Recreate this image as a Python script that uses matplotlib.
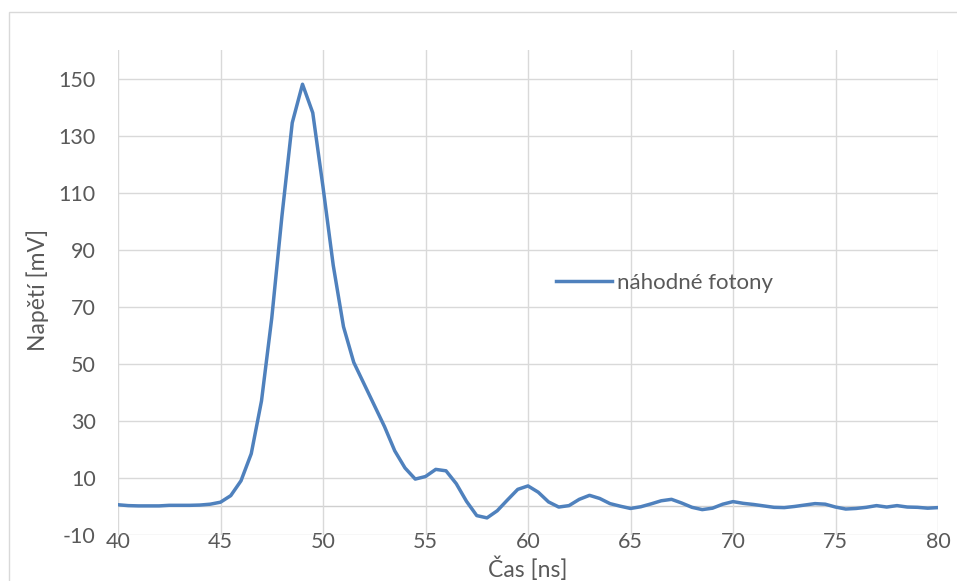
import matplotlib
matplotlib.use("Agg")
import matplotlib.pyplot as plt
from matplotlib.patches import Rectangle

# ---- data ----
time_ns = [40 + 0.5 * i for i in range(81)]
voltage_mV = [
    0.6, 0.3, 0.2, 0.2, 0.2, 0.4, 0.4, 0.4, 0.5, 0.8,
    1.5, 3.8, 9.0, 18.5, 37, 66, 102, 134.5, 148, 138,
    112, 84.5, 63, 50.5, 43, 35.5, 28, 19.5, 13.5, 9.6,
    10.5, 13, 12.5, 8, 1.8, -3.2, -4, -1.5, 2.3, 6,
    7.2, 5, 1.6, -0.2, 0.3, 2.5, 3.9, 2.8, 1.0, 0.1,
    -0.7, -0.1, 0.9, 2.0, 2.5, 1.2, -0.3, -1.1, -0.6, 0.8,
    1.7, 1.1, 0.7, 0.2, -0.3, -0.4, 0.0, 0.5, 1.0, 0.8,
    -0.2, -0.9, -0.7, -0.3, 0.3, -0.2, 0.3, -0.2, -0.3, -0.6,
    -0.4,
]
series_label = "náhodné fotony"
x_ticks = [40, 45, 50, 55, 60, 65, 70, 75, 80]
y_ticks = [-10, 10, 30, 50, 70, 90, 110, 130, 150]
x_label = "Čas [ns]"
y_label = "Napětí [mV]"

plt.rcParams['font.family'] = ['Lato', 'DejaVu Sans']
plt.rcParams['axes.unicode_minus'] = False

W, H = 957, 581
fig = plt.figure(figsize=(W / 100, H / 100), dpi=100)

# chart outer frame (clipped by figure edges)
fig.patches.append(Rectangle((9 / W, 1 - 590 / H), (970 - 9) / W, (590 - 12) / H,
                             transform=fig.transFigure, fill=False,
                             edgecolor='#D9D9D9', linewidth=1.0))

L, R, T, B = 118, 938, 50, 535
ax = fig.add_axes([L / W, 1 - B / H, (R - L) / W, (B - T) / H])

ax.plot(time_ns, voltage_mV, color='#4F81BD', linewidth=2.5,
        solid_joinstyle='round', label=series_label, zorder=3)

ax.set_xlim(40, 80)
ax.set_ylim(-10, 160)
ax.set_xticks(x_ticks)
ax.set_yticks(y_ticks)
ax.grid(True, color='#D9D9D9', linewidth=1.0)
ax.axhline(0, color='#CFCFCF', linewidth=1.0, zorder=1)
for s in ax.spines.values():
    s.set_visible(False)
ax.tick_params(axis='both', length=0, labelsize=15.5, labelcolor='#595959')
ax.tick_params(axis='x', pad=-2)
ax.tick_params(axis='y', pad=16)

fig.text(38 / W, 1 - 290 / H, y_label, rotation=90, ha='center', va='center',
         fontsize=16.5, color='#595959')
fig.text(528 / W, 1 - 569 / H, x_label, ha='center', va='center',
         fontsize=16.5, color='#595959')

leg = ax.legend(loc='center left', bbox_to_anchor=((556 - L) / (R - L), (B - 283) / (B - T)),
                frameon=False, fontsize=16, handlelength=2.5, handletextpad=0.25,
                borderaxespad=0, borderpad=0)
for t in leg.get_texts():
    t.set_color('#595959')

fig.savefig("out.png", dpi=100)
